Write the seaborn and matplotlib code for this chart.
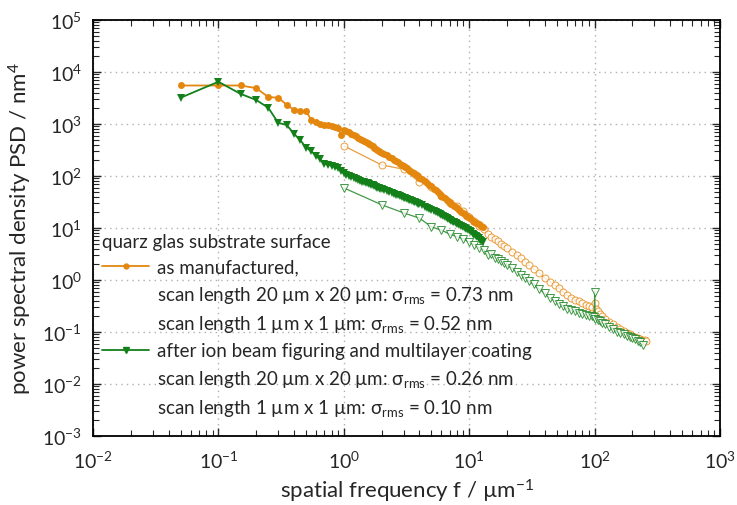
import matplotlib
matplotlib.use("Agg")
import matplotlib.pyplot as plt
import matplotlib.ticker as ticker
from matplotlib.lines import Line2D
import seaborn as sns

# quarz glas substrate, as manufactured, scan 20 um x 20 um
f_man_20 = [0.05, 0.1, 0.15, 0.2, 0.25, 0.3, 0.35, 0.4, 0.45, 0.5, 0.55, 0.6, 0.65, 0.7, 0.75,
            0.8, 0.85, 0.9, 0.95,
            1.0, 1.05, 1.1, 1.15, 1.2, 1.25, 1.3, 1.35, 1.4, 1.45, 1.5, 1.55, 1.6, 1.65, 1.7,
            1.75, 1.8, 1.85, 1.9, 1.95,
            2.0, 2.1, 2.2, 2.3, 2.4, 2.5, 2.6, 2.7, 2.8, 2.9, 3.0, 3.1, 3.2, 3.3, 3.4, 3.5, 3.6,
            3.7, 3.8, 3.9,
            4.0, 4.2, 4.4, 4.6, 4.8, 5.0, 5.2, 5.4, 5.6, 5.8, 6.0, 6.2, 6.4, 6.6, 6.8, 7.0, 7.2,
            7.4, 7.6, 7.8,
            8.0, 8.3, 8.6, 8.9, 9.2, 9.5, 9.8, 10.1, 10.4, 10.7, 11.0, 11.3, 11.6, 11.9, 12.2,
            12.5, 12.8]
psd_man_20 = [5500, 5500, 5500, 4900, 3300, 3200, 2350, 1870, 1780, 1750, 1200, 1080, 1020, 960,
              940, 930, 880, 830, 615,
              780, 730, 700, 650, 610, 580, 545, 525, 500, 470, 445, 425, 405, 390, 370, 350,
              335, 318, 305, 292,
              282, 265, 248, 232, 218, 205, 192, 182, 172, 162, 153, 147, 140, 133, 127, 121,
              116, 110, 105, 99,
              93, 86, 80, 73, 68, 63, 57, 53, 49, 45, 42, 40, 37, 35, 33, 31, 29.5, 28, 26.5, 25,
              24, 22, 20.5, 19.5, 18.3, 17, 16.3, 15.5, 14.6, 13.9, 13.2, 12.7, 12.2, 11.7,
              11.3, 11.0, 10.5]

# as manufactured, scan 1 um x 1 um
f_man_1 = [1, 2, 3, 4, 5, 6, 7, 8, 9, 10, 11, 12, 13, 14, 15, 16, 17, 18, 19, 20, 22, 24, 26,
           28, 30, 33, 36, 40, 44, 48, 52, 56, 60, 65, 70, 75, 80, 85, 90, 95, 100, 103, 106,
           110, 115, 120, 130, 140, 150, 160, 170, 180, 190, 200, 210, 220, 230, 240, 250, 256]
psd_man_1 = [380, 163, 135, 76, 62, 42, 30, 26, 21, 16.5, 13.5, 11, 9.5, 7.8, 6.8, 6.2, 5.6,
             5.0, 4.6, 4.2, 3.5, 3.0, 2.6, 2.2, 1.9, 1.6, 1.35, 1.1, 0.92, 0.8, 0.7, 0.6, 0.52,
             0.46, 0.42, 0.39, 0.36, 0.33, 0.31, 0.30, 0.36, 0.28, 0.25, 0.22, 0.2, 0.18, 0.155,
             0.14, 0.126, 0.112, 0.104, 0.096, 0.09, 0.085, 0.08, 0.076, 0.073, 0.07, 0.069,
             0.068]

# after ion beam figuring and multilayer coating, scan 20 um x 20 um
f_ibf_20 = f_man_20
psd_ibf_20 = [3200, 6500, 3800, 2900, 2050, 1050, 960, 650, 490, 350, 305, 240, 210, 170, 165,
              157, 150, 140, 125,
              115, 106, 100, 96, 92, 88, 85, 81, 78, 76, 74, 72, 70, 68, 66, 64, 62, 60, 58,
              56.5,
              55, 53.5, 52, 50, 48, 46, 44, 42.5, 41, 39.5, 38, 37, 36, 35, 34, 33, 32, 31, 30,
              29.2,
              28.5, 27.2, 25.8, 24.5, 23.5, 22.5, 21.5, 20.5, 19.5, 18.5, 17.7, 17.0, 16.2, 15.6,
              15.0, 14.4, 13.8, 13.3, 12.8, 12.4,
              12.0, 11.4, 10.8, 10.3, 9.8, 9.4, 9.0, 8.6, 8.2, 7.8, 7.3, 7.0, 6.6, 6.3, 6.0, 5.7,
              5.4]

# after ion beam figuring and multilayer coating, scan 1 um x 1 um
f_ibf_1 = [1, 2, 3, 4, 5, 6, 7, 8, 9, 10, 11, 12, 13, 14, 15, 16, 17, 18, 19, 20, 22, 24, 26,
           28, 30, 33, 36, 40, 44, 48, 52, 56, 60, 65, 70, 75, 80, 85, 90, 95, 99, 100, 101,
           106, 110, 115, 120, 130, 140, 150, 160, 170, 180, 190, 200, 210, 220, 230, 245]
psd_ibf_1 = [59, 28, 19.5, 15.5, 10.5, 9.1, 7.6, 6.8, 6.2, 5.3, 4.8, 4.2, 3.8, 3.0, 3.1, 2.7,
             2.5, 2.3, 2.1, 1.9, 1.7, 1.4, 1.25, 1.1, 0.95, 0.82, 0.68, 0.55, 0.45, 0.4, 0.35,
             0.32, 0.28, 0.26, 0.25, 0.23, 0.22, 0.21, 0.20, 0.2, 0.19, 0.60, 0.18, 0.17, 0.16,
             0.15, 0.14, 0.125, 0.115, 0.10, 0.095, 0.09, 0.085, 0.08, 0.077, 0.072, 0.068,
             0.063, 0.055]

orange = "#E3870F"
green = "#13801A"

sns.set_style("ticks")
plt.rcParams["font.family"] = ["Lato", "DejaVu Sans"]
plt.rcParams["mathtext.fontset"] = "custom"
plt.rcParams["mathtext.rm"] = "Lato"
plt.rcParams["mathtext.it"] = "Lato:italic"
plt.rcParams["mathtext.bf"] = "Lato:bold"

fig = plt.figure(figsize=(7.37, 5.06), dpi=100)
ax = fig.add_axes([0.1262, 0.1364, 0.8508, 0.8221])

# 1 um scans first (open symbols), 20 um scans on top (filled)
sns.lineplot(x=f_man_1, y=psd_man_1, ax=ax, color=orange, lw=0.9, marker="o", markersize=5,
             markerfacecolor="white", markeredgecolor=orange, markeredgewidth=0.7, alpha=0.8)
sns.lineplot(x=f_ibf_1, y=psd_ibf_1, ax=ax, color=green, lw=0.9, marker="v", markersize=5.5,
             markerfacecolor="white", markeredgecolor=green, markeredgewidth=0.7, alpha=0.8)
sns.lineplot(x=f_man_20, y=psd_man_20, ax=ax, color=orange, lw=1.3, marker="o", markersize=5,
             markeredgewidth=0)
sns.lineplot(x=f_ibf_20, y=psd_ibf_20, ax=ax, color=green, lw=1.3, marker="v", markersize=5.5,
             markeredgewidth=0)

ax.set_xscale("log")
ax.set_yscale("log")
ax.set_xlim(1e-2, 1e3)
ax.set_ylim(1e-3, 1e5)

ax.xaxis.set_major_locator(ticker.LogLocator(base=10, numticks=10))
ax.yaxis.set_major_locator(ticker.LogLocator(base=10, numticks=10))
ax.xaxis.set_minor_locator(ticker.LogLocator(base=10, subs=range(2, 10), numticks=10))
ax.yaxis.set_minor_locator(ticker.LogLocator(base=10, subs=range(2, 10), numticks=10))
ax.yaxis.set_minor_formatter(ticker.NullFormatter())
ax.xaxis.set_minor_formatter(ticker.NullFormatter())

ax.tick_params(which="both", direction="in", top=True, right=True, labelsize=14)
ax.tick_params(axis="x", which="major", pad=10)
ax.tick_params(axis="y", which="major", pad=8)
ax.tick_params(which="major", length=6, width=1)
ax.tick_params(which="minor", length=4, width=0.8)
for s in ax.spines.values():
    s.set_linewidth(1.3)
    s.set_color("black")

ax.grid(True, which="major", linestyle=(0, (1, 3)), color="#b0b0b0", lw=1)
ax.set_axisbelow(True)

ax.set_xlabel("spatial frequency f / µm$^{-1}$", fontsize=16, labelpad=4)
ax.set_ylabel("power spectral density PSD / nm$^{4}$", fontsize=16, labelpad=6)

blank = Line2D([], [], linestyle="none")
handles = [
    Line2D([], [], color=orange, lw=1.3, marker="o", markersize=3.5),
    blank, blank,
    Line2D([], [], color=green, lw=1.3, marker="v", markersize=4),
    blank, blank,
]
labels = [
    "as manufactured,",
    "scan length 20 µm x 20 µm: σ$_{\\mathrm{rms}}$ = 0.73 nm",
    "scan length 1 µm x 1 µm: σ$_{\\mathrm{rms}}$ = 0.52 nm",
    "after ion beam figuring and multilayer coating",
    "scan length 20 µm x 20 µm: σ$_{\\mathrm{rms}}$ = 0.26 nm",
    "scan length 1 µm x 1 µm: σ$_{\\mathrm{rms}}$ = 0.10 nm",
]
leg = ax.legend(handles, labels, title="quarz glas substrate surface", loc="lower left",
                bbox_to_anchor=(0.0, 0.02), frameon=False, fontsize=13.5, title_fontsize=13.5,
                alignment="left", handlelength=2.5, handletextpad=0.4, labelspacing=0.45,
                borderpad=0.2, borderaxespad=0.3)

fig.savefig("out.png", dpi=100)
